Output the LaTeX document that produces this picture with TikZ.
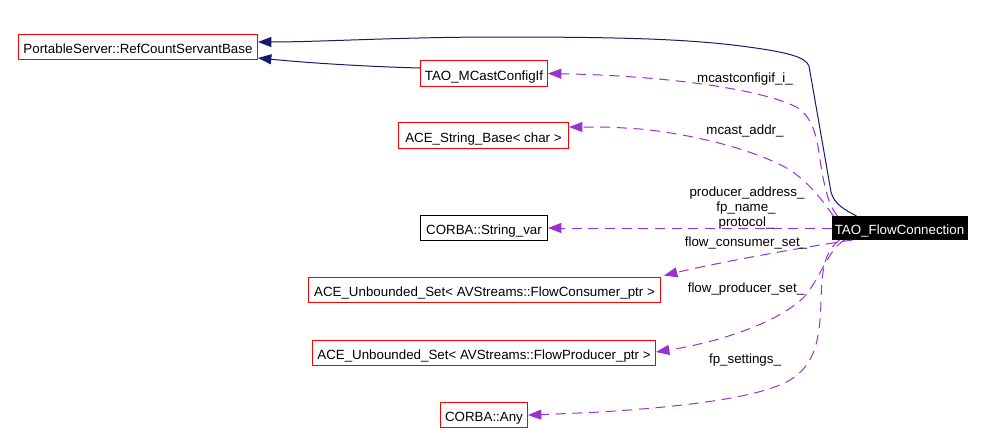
\documentclass[tikz,border=0pt]{standalone}
\usepackage{fontspec}
\setmainfont{Liberation Sans}
\usetikzlibrary{arrows.meta,calc}
\definecolor{boxred}{HTML}{FF0000}
\definecolor{inhblue}{HTML}{191970}
\definecolor{usepurple}{HTML}{9A32CD}
\begin{document}
\begin{tikzpicture}[x=0.75pt,y=-0.75pt,
  every node/.style={font=\fontsize{10}{12}\selectfont},
  cls/.style={draw=boxred,line width=0.75pt,inner sep=0pt,text height=9.75pt,text depth=0pt,minimum height=18.75pt},
  clsblack/.style={cls,draw=black},
  mainnode/.style={cls,draw=black,fill=black,text=white},
  inh/.style={draw=inhblue,line width=0.75pt,-{Triangle[length=10pt,width=7.5pt]}},
  use/.style={draw=usepurple,line width=0.75pt,dash pattern=on 7.5pt off 5pt,-{Triangle[length=10pt,width=7.5pt]}},
  lbl/.style={anchor=base,inner sep=0pt}
]
\useasboundingbox[fill=white] (0,0) rectangle (984,446);

\node[cls,minimum width=179.25pt] (PS) at (138,47) {PortableServer::RefCountServantBase};
\node[cls,minimum width=95.25pt,minimum height=19.5pt] (MC) at (484,73.5) {TAO\_MCastConfigIf};
\node[cls,minimum width=127.5pt,minimum height=19.5pt] (ASB) at (483.5,135.5) {ACE\_String\_Base< char >};
\node[clsblack,minimum width=95.25pt] (SV) at (484,228) {CORBA::String\_var};
\node[cls,minimum width=264pt] (FC) at (484.5,290) {ACE\_Unbounded\_Set< AVStreams::FlowConsumer\_ptr >};
\node[cls,minimum width=257.25pt] (FP) at (484,353) {ACE\_Unbounded\_Set< AVStreams::FlowProducer\_ptr >};
\node[cls,minimum width=65.25pt] (ANY) at (484,415) {CORBA::Any};
\node[mainnode,minimum width=101.25pt,minimum height=17.25pt] (TFC) at (899.5,228) {TAO\_FlowConnection};

% inheritance
\draw[inh] ($(TFC.north west)+(25,0)$) .. controls (845,210) and (834,204) .. (831,192)
  -- (809,66) .. controls (805,57) and (790,52) .. (733,45)
  .. controls (680,39) and (620,37) .. (500,37)
  .. controls (400,37) and (320,42) .. ($(PS.east)+(0,-5)$);
\draw[inh] ($(MC.west)+(0,-5.5)$) .. controls (380,67) and (320,64) .. ($(PS.east)+(0,11)$);

% usage
\draw[use] ($(TFC.north west)+(6,0)$) .. controls (828,205) and (824,185) .. (820,160)
  .. controls (817,135) and (812,118) .. (798,108)
  .. controls (770,92) and (680,76) .. (MC.east);
\draw[use] ($(TFC.north west)+(2,0)$) .. controls (824,203) and (812,185) .. (790,170)
  .. controls (760,152) and (700,135) .. (640,129)
  .. controls (610,127) .. ($(ASB.east)+(0,-8.5)$);
\draw[use] (TFC.west) -- (SV.east);
\draw[use] ($(TFC.south west)+(21,0)$) .. controls (810,246) and (720,262) .. ($(FC.north east)+(3,-1.5)$);
\draw[use] ($(TFC.south west)+(13,0)$) .. controls (828,250) and (822,275) .. (805,296)
  .. controls (780,322) and (720,342) .. ($(FP.east)+(0,-1)$);
\draw[use] ($(TFC.south west)+(8,0)$) .. controls (824,252) and (822,270) .. (821,300)
  .. controls (820,340) and (815,365) .. (790,380)
  .. controls (760,398) and (680,407) .. (600,412)
  .. controls (570,414) .. (ANY.east);

% labels
\node[lbl] (l1) at (745,82) {mcastconfigif\_i\_};
\node[lbl] (l2) at (745,134) {mcast\_addr\_};
\node[lbl] (l3) at (747,196) {producer\_address\_};
\node[lbl] (l4) at (746,211) {fp\_name\_};
\node[lbl] (l5) at (746,226) {protocol\_};
\node[lbl] (l6) at (746,246) {flow\_consumer\_set\_};
\node[lbl] (l7) at (746,292) {flow\_producer\_set\_};
\node[lbl] (l8) at (745,363) {fp\_settings\_};
\end{tikzpicture}
\end{document}
